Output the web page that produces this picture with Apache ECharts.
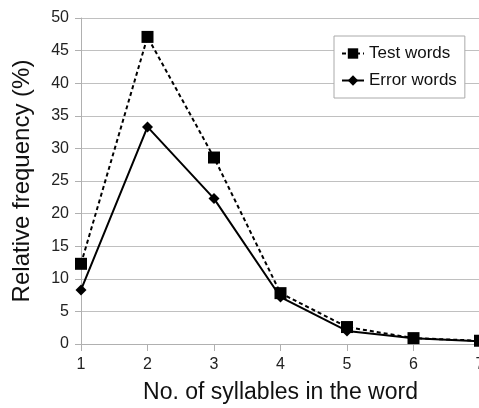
<!DOCTYPE html>
<html>
<head>
<meta charset="utf-8">
<script src="https://cdn.jsdelivr.net/npm/echarts@6/dist/echarts.min.js"></script>
<style>
html,body{margin:0;padding:0;background:#fff;}
#chart{width:479px;height:408px;}
</style>
</head>
<body>
<div id="chart"></div>
<script>
// 数据
var syllables = [1, 2, 3, 4, 5, 6, 7];
var testWords = [12.3, 47.1, 28.6, 7.8, 2.6, 0.9, 0.5];
var errorWords = [8.3, 33.3, 22.3, 7.2, 2.0, 0.9, 0.4];
var yTicks = [0, 5, 10, 15, 20, 25, 30, 35, 40, 45, 50];

function pairs(xs, ys){
	var out = [];
	for(var i = 0; i < xs.length; i++){
		out.push([xs[i], ys[i]]);
	}
	return out;
}

var myChart = echarts.init(document.getElementById('chart'));
var fontName = 'Liberation Sans, Arial, sans-serif';

var option = {
	animation: false,
	backgroundColor: '#fff',
	grid: {
		left: 81,
		right: -1,
		top: 18,
		bottom: 64,
		outerBoundsMode: 'none'
	},
	legend: {
		data: ['Test words', 'Error words'],
		orient: 'vertical',
		left: 334,
		top: 36,
		itemWidth: 22,
		itemHeight: 13,
		itemGap: 10,
		padding: [9, 8, 9, 7],
		borderColor: '#aaa',
		borderWidth: 1,
		backgroundColor: '#fff',
		textStyle: {fontSize: 17, fontFamily: fontName, color: '#111'}
	},
	xAxis: {
		type: 'value',
		min: 1,
		max: 7,
		interval: 1,
		name: 'No. of syllables in the word',
		nameLocation: 'middle',
		nameGap: 37,
		nameTextStyle: {fontSize: 23, fontFamily: fontName, color: '#111'},
		axisLine: {lineStyle: {color: '#b0b0b0'}},
		axisTick: {show: true, length: 7, inside: false, lineStyle: {color: '#b0b0b0'}},
		axisLabel: {fontSize: 16, margin: 13, fontFamily: fontName, color: '#222'},
		splitLine: {show: false}
	},
	yAxis: {
		type: 'value',
		min: yTicks[0],
		max: yTicks[yTicks.length - 1],
		interval: 5,
		name: 'Relative frequency (%)',
		nameLocation: 'middle',
		nameGap: 47,
		nameTextStyle: {fontSize: 24, fontFamily: fontName, color: '#111'},
		axisLine: {show: true, lineStyle: {color: '#b0b0b0'}},
		axisTick: {show: true, length: 6, lineStyle: {color: '#b0b0b0'}},
		axisLabel: {fontSize: 16, margin: 12, fontFamily: fontName, color: '#222'},
		splitLine: {show: true, lineStyle: {color: '#c0c0c0'}}
	},
	series: [
		{
			name: 'Test words',
			type: 'line',
			data: pairs(syllables, testWords),
			symbol: 'rect',
			symbolSize: 12,
			itemStyle: {color: '#000'},
			lineStyle: {color: '#000', width: 2, type: [4, 3]}
		},
		{
			name: 'Error words',
			type: 'line',
			data: pairs(syllables, errorWords),
			symbol: 'diamond',
			symbolSize: 11,
			itemStyle: {color: '#000'},
			lineStyle: {color: '#000', width: 2}
		}
	]
};
myChart.setOption(option);
</script>
</body>
</html>
